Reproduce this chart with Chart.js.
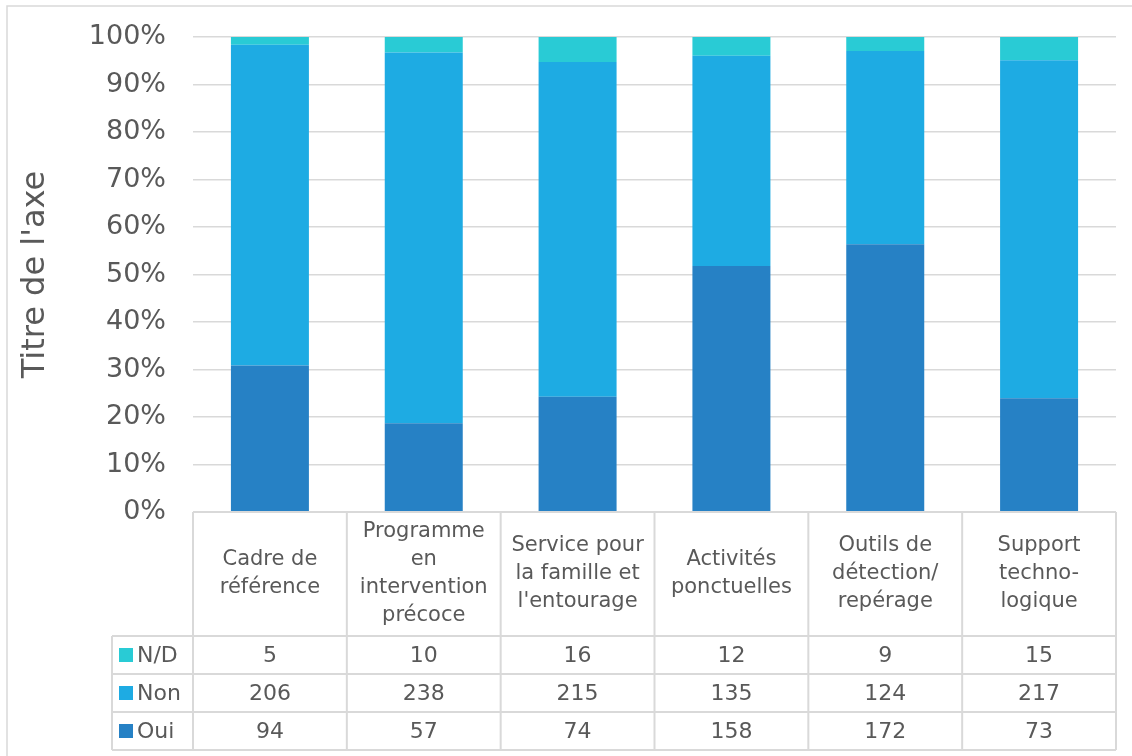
<!DOCTYPE html>
<html lang="fr">
<head>
<meta charset="utf-8">
<title>Oui / Non / N/D par type d'action</title>
<script src="https://cdn.jsdelivr.net/npm/chart.js@4.4.1/dist/chart.umd.min.js"></script>
<style>
  html, body { margin: 0; padding: 0; background: #fff; }
</style>
</head>
<body>
<canvas id="chart" width="1132" height="756"></canvas>
<script>
// categories (multi-line labels shown in the table header)
const categories = [
  ["Cadre de", "référence"],
  ["Programme", "en", "intervention", "précoce"],
  ["Service pour", "la famille et", "l'entourage"],
  ["Activités", "ponctuelles"],
  ["Outils de", "détection/", "repérage"],
  ["Support", "techno-", "logique"]
];

// raw counts per answer
const oui = [94, 57, 74, 158, 172, 73];
const non = [206, 238, 215, 135, 124, 217];
const nd  = [5, 10, 16, 12, 9, 15];

const seriesNames = ["Oui", "Non", "N/D"];
const seriesColors = ["#2681c5", "#1eabe3", "#29cbd5"];

const FONT = "'DejaVu Sans', sans-serif";
const TEXT = "#595959";
const LINE = "#d9d9d9";

// 100% stacked: each bar segment is its share of the category total
const totals = oui.map((v, i) => v + non[i] + nd[i]);
const share = arr => arr.map((v, i) => v / totals[i]);

// table rows, top to bottom
const tableRows = [
  { name: "N/D", values: nd,  color: seriesColors[2] },
  { name: "Non", values: non, color: seriesColors[1] },
  { name: "Oui", values: oui, color: seriesColors[0] }
];

const dataTable = {
  id: "dataTable",
  beforeDraw(chart) {
    const ctx = chart.ctx;
    ctx.save();
    ctx.fillStyle = "#fff";
    ctx.fillRect(0, 0, chart.width, chart.height);
    // chart frame (runs past the right and bottom edges)
    ctx.strokeStyle = LINE;
    ctx.lineWidth = 1.5;
    ctx.strokeRect(7, 6, chart.width + 20, chart.height + 20);
    ctx.restore();
  },
  afterDraw(chart) {
    const ctx = chart.ctx;
    const x = chart.scales.x;
    const area = chart.chartArea;
    const colW = x.width / categories.length;
    const top = area.bottom;
    const headerBottom = top + 124;
    const rowH = 38;
    const bottom = headerBottom + rowH * tableRows.length;
    const legendLeft = area.left - 81;

    ctx.save();
    ctx.strokeStyle = LINE;
    ctx.lineWidth = 2;
    ctx.beginPath();
    // horizontal rules
    ctx.moveTo(area.left, top); ctx.lineTo(area.right, top);
    for (let r = 0; r <= tableRows.length; r++) {
      const y = headerBottom + r * rowH;
      ctx.moveTo(legendLeft, y); ctx.lineTo(area.right, y);
    }
    // column rules
    for (let i = 0; i <= categories.length; i++) {
      const cx = i < categories.length
        ? x.getPixelForValue(i) - colW / 2
        : x.getPixelForValue(i - 1) + colW / 2;
      ctx.moveTo(cx, top); ctx.lineTo(cx, bottom);
    }
    ctx.moveTo(legendLeft, headerBottom); ctx.lineTo(legendLeft, bottom);
    ctx.stroke();

    ctx.fillStyle = TEXT;
    ctx.textAlign = "center";
    ctx.textBaseline = "middle";
    ctx.font = "21px " + FONT;

    // header: category names
    const headMid = (top + headerBottom) / 2;
    const lh = 28;
    categories.forEach((lines, i) => {
      const cx = x.getPixelForValue(i);
      const y0 = headMid - (lines.length - 1) * lh / 2;
      lines.forEach((t, k) => ctx.fillText(t, cx, y0 + k * lh));
    });

    // value rows with legend keys
    ctx.font = "22px " + FONT;
    tableRows.forEach((row, r) => {
      const mid = headerBottom + r * rowH + rowH / 2;
      row.values.forEach((v, i) => {
        ctx.fillText(String(v), x.getPixelForValue(i), mid + 1);
      });
      ctx.fillStyle = row.color;
      ctx.fillRect(legendLeft + 7, mid - 7, 14, 14);
      ctx.fillStyle = TEXT;
      ctx.textAlign = "left";
      ctx.fillText(row.name, legendLeft + 25, mid + 1);
      ctx.textAlign = "center";
    });
    ctx.restore();
  }
};

new Chart(document.getElementById("chart"), {
  type: "bar",
  data: {
    labels: categories,
    datasets: [
      { label: seriesNames[0], data: share(oui), backgroundColor: seriesColors[0] },
      { label: seriesNames[1], data: share(non), backgroundColor: seriesColors[1] },
      { label: seriesNames[2], data: share(nd),  backgroundColor: seriesColors[2] }
    ]
  },
  options: {
    responsive: false,
    animation: false,
    devicePixelRatio: 1,
    layout: { padding: { top: 37, right: 16, bottom: 244, left: 0 } },
    datasets: {
      bar: { barPercentage: 0.507, categoryPercentage: 1, borderWidth: 0 }
    },
    plugins: {
      legend: { display: false },
      tooltip: { enabled: false }
    },
    scales: {
      x: {
        stacked: true,
        display: false
      },
      y: {
        stacked: true,
        min: 0,
        max: 1,
        afterFit(scale) {
          scale.width = 193;
          scale.paddingTop = 0;
          scale.paddingBottom = 0;
        },
        border: { display: false },
        grid: { color: LINE, lineWidth: 1.5, drawTicks: false },
        ticks: {
          stepSize: 0.1,
          padding: 27,
          color: TEXT,
          font: { family: FONT, size: 27 },
          callback: v => Math.round(v * 100) + "%"
        },
        title: {
          display: true,
          text: "Titre de l'axe",
          color: TEXT,
          font: { family: FONT, size: 32 },
          padding: { top: 16, bottom: 0 }
        }
      }
    }
  },
  plugins: [dataTable]
});
</script>
</body>
</html>
